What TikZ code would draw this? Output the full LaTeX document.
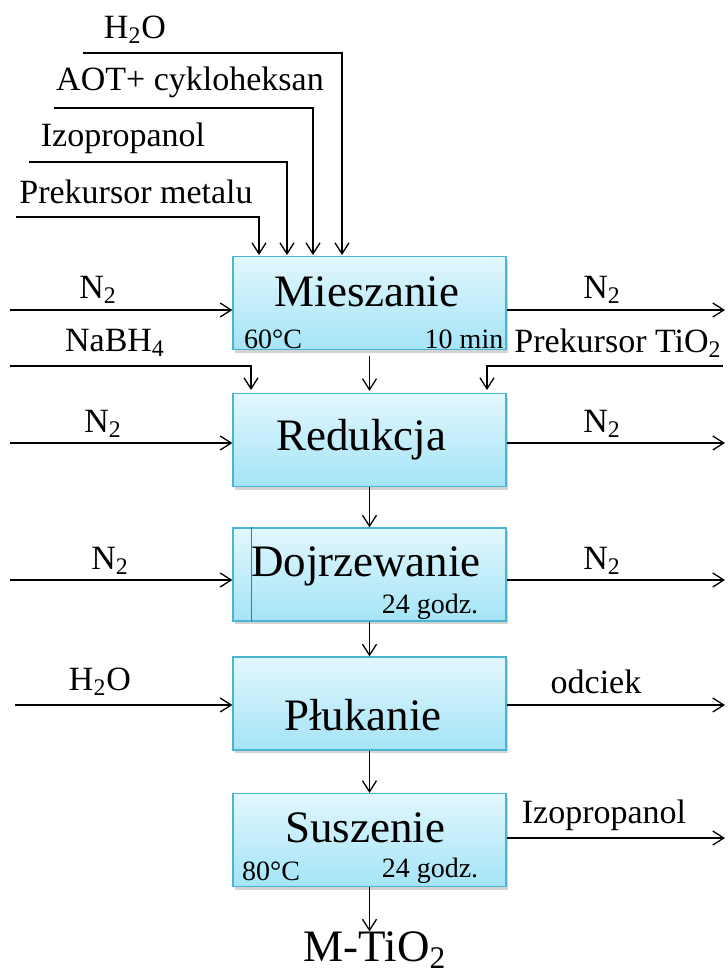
\documentclass[tikz,border=0pt]{standalone}
\usepackage{fontspec}
\setmainfont{Liberation Serif}
\usetikzlibrary{arrows.meta,shadows,calc}
\definecolor{boxborder}{RGB}{75,180,210}
\definecolor{boxtop}{RGB}{226,247,253}
\definecolor{boxbot}{RGB}{164,228,247}
\definecolor{innerline}{RGB}{70,110,200}
\begin{document}
\begin{tikzpicture}[x=0.5pt,y=-0.5pt,
  procbox/.style={draw=boxborder,line width=0.6pt,top color=boxtop,bottom color=boxbot,
    minimum width=136.5pt,minimum height=46.5pt,inner sep=0pt,
    drop shadow={shadow xshift=1pt,shadow yshift=-1.5pt,opacity=0.35}},
  title/.style={inner sep=0pt,font=\fontsize{22.5}{27}\selectfont},
  lbl/.style={inner sep=0pt,font=\fontsize{17}{20}\selectfont},
  sml/.style={inner sep=0pt,font=\fontsize{14}{17}\selectfont},
  arr/.style={draw=black,line width=0.65pt,-{Straight Barb[length=5.5pt,width=7pt]}},
  ln/.style={draw=black,line width=0.65pt}]
\useasboundingbox (0,0) rectangle (728,976);

% process boxes
\node[procbox] (m) at (369.5,303) {};
\node[procbox] (r) at (369.5,440) {};
\node[procbox] (d) at (369.5,574.5) {};
\node[procbox] (p) at (369.5,703.5) {};
\node[procbox] (s) at (369.5,840) {};
\draw[innerline,line width=0.6pt] ($(d.north west)+(19,0)$) -- ($(d.south west)+(19,0)$);

% titles
\node[title] (tm) at (367,292) {Mieszanie};
\node[title] (tr) at (361,440) {Redukcja};
\node[title] (td) at (366,566) {Dojrzewanie};
\node[title] (tp) at (363,715) {Płukanie};
\node[title] (ts) at (365,828) {Suszenie};

% small box texts
\node[sml] (m60) at (273,339) {60°C};
\node[sml] (m10) at (464,339) {10 min};
\node[sml] (d24) at (430,607) {24 godz.};
\node[sml] (s80) at (271,871) {80°C};
\node[sml] (s24) at (430,871) {24 godz.};

% top inputs
\node[lbl] (lh2o) at (135,30) {H\textsubscript{2}O};
\node[lbl] (laot) at (190,82) {AOT+ cykloheksan};
\node[lbl] (liz) at (123,138) {Izopropanol};
\node[lbl] (lpm) at (136,192) {Prekursor metalu};
\coordinate (c4) at (83,53);
\coordinate (c3) at (54,108);
\coordinate (c2) at (29,162);
\coordinate (c1) at (16,217);
\coordinate (e1) at (259,255);
\coordinate (e2) at (287,255);
\coordinate (e3) at (313,255);
\coordinate (e4) at (342,255);
\draw[arr] (c1) -| (e1);
\draw[arr] (c2) -| (e2);
\draw[arr] (c3) -| (e3);
\draw[arr] (c4) -| (e4);

% row 1
\node[lbl] (ln1l) at (98,290) {N\textsubscript{2}};
\node[lbl] (ln1r) at (602,290) {N\textsubscript{2}};
\coordinate (a1l) at (10,310);
\coordinate (a1r) at (725,310);
\draw[arr] (a1l) -- (m.west |- a1l);
\draw[arr] (m.east |- a1r) -- (a1r);

% NaBH4 / Prekursor TiO2
\node[lbl] (lnab) at (115,343) {NaBH\textsubscript{4}};
\node[lbl] (lpti) at (618,343) {Prekursor TiO\textsubscript{2}};
\coordinate (nb) at (10,366);
\coordinate (pt) at (723,366);
\coordinate (rn1) at (251,390);
\coordinate (rn3) at (487,390);
\draw[arr] (nb) -| (rn1);
\draw[arr] (pt) -| (rn3);
\draw[arr] ([yshift=-3pt]m.south) -- ([yshift=1pt]r.north);

% row 2
\node[lbl] (ln2l) at (103,424) {N\textsubscript{2}};
\node[lbl] (ln2r) at (602,424) {N\textsubscript{2}};
\coordinate (a2l) at (10,443);
\coordinate (a2r) at (725,443);
\draw[arr] (a2l) -- (r.west |- a2l);
\draw[arr] (r.east |- a2r) -- (a2r);
\draw[arr] (r.south) -- (d.north);

% row 3
\node[lbl] (ln3l) at (110,561) {N\textsubscript{2}};
\node[lbl] (ln3r) at (602,561) {N\textsubscript{2}};
\coordinate (a3l) at (10,580);
\coordinate (a3r) at (725,580);
\draw[arr] (a3l) -- (d.west |- a3l);
\draw[arr] (d.east |- a3r) -- (a3r);
\draw[arr] (d.south) -- (p.north);

% row 4
\node[lbl] (lh2o4) at (100,682) {H\textsubscript{2}O};
\node[lbl] (lodc) at (596,682) {odciek};
\coordinate (a4l) at (15,705);
\coordinate (a4r) at (725,705);
\draw[arr] (a4l) -- (p.west |- a4l);
\draw[arr] (p.east |- a4r) -- (a4r);
\draw[arr] (p.south) -- (s.north);

% row 5
\node[lbl] (liz5) at (604,815) {Izopropanol};
\coordinate (a5r) at (725,838);
\draw[arr] (s.east |- a5r) -- (a5r);

% product
\node[title] (prod) at (375,950) {M-TiO\textsubscript{2}};
\draw[arr] (s.south) -- (s.south |- prod.north);
\end{tikzpicture}
\end{document}
